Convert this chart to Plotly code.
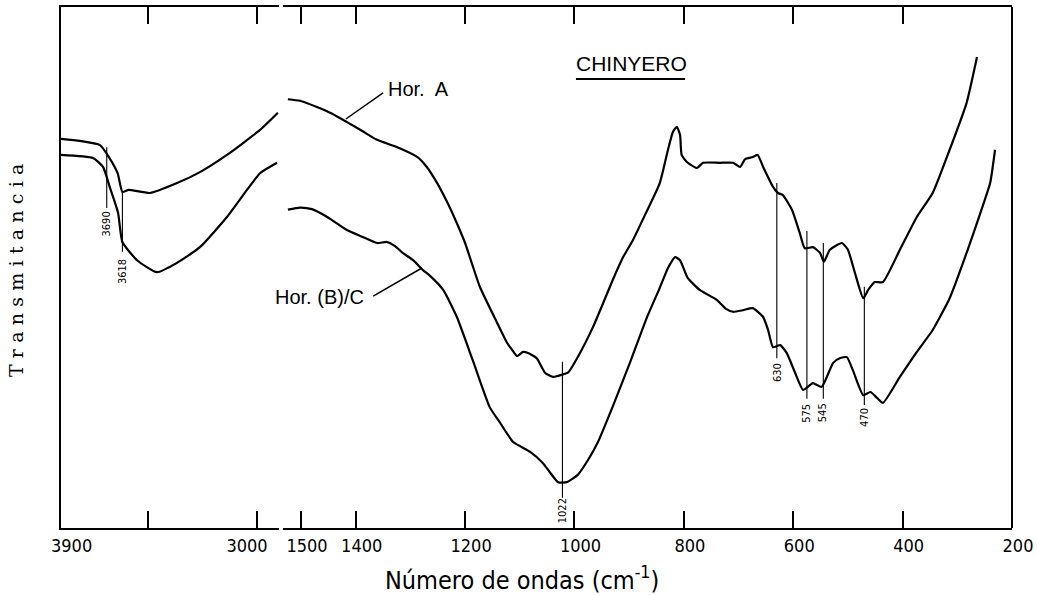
import plotly.graph_objects as go

# ---------------- data ----------------
# Left panel: 3900 - 2900 cm-1
wn_left_A = [3900, 3813, 3721, 3680, 3640, 3618, 3590, 3491, 3367, 3262, 3138, 2986, 2904]
T_left_A = [74.7, 74.3, 73.5, 71.2, 68.1, 64.5, 64.9, 64.3, 66.2, 68.3, 71.6, 76.4, 79.7]

wn_left_BC = [3900, 3753, 3707, 3675, 3638, 3618, 3551, 3459, 3367, 3262, 3138, 3046, 2986, 2908]
T_left_BC = [71.6, 71.0, 69.3, 65.3, 60.5, 54.9, 51.4, 49.1, 50.9, 53.9, 59.7, 64.9, 68.1, 70.1]

# Right panel: 1530 - 200 cm-1
wn_right_A = [1524, 1502, 1471, 1443, 1416, 1388, 1361, 1324, 1287, 1270, 1251, 1233, 1215,
              1200, 1173, 1142, 1123, 1114, 1105, 1094, 1085, 1069, 1054, 1039, 1030, 1012,
              994, 966, 953, 930, 911, 893, 871, 844, 829, 820, 813, 807, 804, 794, 776, 765,
              734, 710, 697, 688, 674, 665, 655, 637, 628, 619, 602, 588, 579, 564, 551, 544,
              533, 511, 500, 487, 472, 463, 451, 436, 405, 374, 345, 314, 283, 264]
T_right_A = [82.3, 82.0, 80.8, 79.5, 77.9, 76.2, 74.5, 73.1, 71.2, 69.3, 66.2, 62.6, 58.5,
             54.7, 46.3, 39.5, 35.5, 34.2, 33.0, 33.8, 33.6, 32.6, 29.8, 29.0, 29.2, 29.8,
             32.8, 38.6, 41.8, 47.6, 52.0, 55.3, 60.1, 66.2, 72.6, 76.0, 77.0, 75.5, 71.6,
             70.2, 69.1, 70.1, 70.1, 70.1, 69.3, 70.8, 71.2, 71.6, 69.3, 65.5, 64.3, 63.9,
             61.0, 56.6, 53.7, 53.9, 52.8, 51.1, 53.4, 54.7, 53.4, 48.9, 44.1, 45.7, 47.2,
             47.2, 53.4, 59.7, 64.3, 72.6, 81.6, 90.4]

wn_right_BC = [1524, 1502, 1480, 1452, 1416, 1388, 1361, 1343, 1328, 1314, 1295, 1277, 1264,
               1240, 1215, 1186, 1155, 1136, 1112, 1081, 1058, 1045, 1030, 1014, 994, 975,
               958, 929, 898, 868, 844, 829, 816, 807, 793, 771, 740, 722, 710, 692, 674,
               655, 646, 637, 624, 612, 597, 582, 564, 548, 527, 515, 502, 491, 472, 459,
               447, 436, 405, 374, 345, 314, 283, 259, 240, 231]
T_right_BC = [61.1, 61.5, 61.2, 59.7, 57.2, 55.9, 54.7, 54.9, 54.1, 52.8, 51.4, 49.5, 48.4,
              45.7, 40.5, 32.2, 23.2, 20.2, 16.5, 14.6, 12.5, 10.7, 8.8, 8.8, 10.2, 13.1,
              16.3, 23.6, 31.9, 40.3, 46.1, 49.9, 52.0, 51.4, 48.0, 45.7, 43.8, 42.0, 41.5,
              41.8, 42.2, 40.5, 38.0, 34.7, 35.1, 33.6, 29.9, 26.5, 27.8, 27.1, 31.7, 32.6,
              32.8, 30.3, 25.5, 26.1, 25.0, 24.0, 29.0, 33.8, 38.0, 44.1, 52.8, 60.1, 66.2,
              72.6]

# Band markers: (label, wavenumber, axis, line top T, line bottom T, label centre T)
band_labels = ["3690", "3618", "1022", "630", "575", "545", "470"]
band_wn = [3690, 3618, 1022, 630, 575, 545, 470]
band_axis = ["x", "x", "x2", "x2", "x2", "x2", "x2"]
band_top = [73.1, 64.7, 31.9, 66.2, 57.0, 54.7, 46.3]
band_bottom = [61.4, 53.0, 5.8, 32.6, 24.8, 24.8, 23.6]
band_text_T = [58.4, 49.2, 3.3, 29.9, 22.1, 22.1, 21.2]

left_ticks = [3900, 3500, 3000]
left_ticktext = ["\u2007\u2007\u2007\u20073900", "", "3000"]
right_ticks = [1500, 1400, 1200, 1000, 800, 600, 400, 200]
right_ticktext = ["1500", "1400", "1200", "1000", "800", "600", "400", "200"]

# ---------------- figure ----------------
TICKFONT = dict(family="DejaVu Sans Condensed, Liberation Sans Narrow, DejaVu Sans", size=18, color="black")
LABFONT = dict(family="Liberation Sans, Arial, sans-serif", size=20, color="black")
SMALLFONT = dict(family="DejaVu Sans Condensed, Liberation Sans Narrow, DejaVu Sans", size=11, color="black")

fig = go.Figure()
line_style = dict(color="black", width=2.2, shape="spline", smoothing=0.5)
fig.add_trace(go.Scatter(x=wn_left_A, y=T_left_A, mode="lines", line=line_style,
                         xaxis="x", yaxis="y", name="Hor. A", showlegend=False))
fig.add_trace(go.Scatter(x=wn_left_BC, y=T_left_BC, mode="lines", line=line_style,
                         xaxis="x", yaxis="y", name="Hor. (B)/C", showlegend=False))
fig.add_trace(go.Scatter(x=wn_right_A, y=T_right_A, mode="lines", line=line_style,
                         xaxis="x2", yaxis="y", name="Hor. A", showlegend=False))
fig.add_trace(go.Scatter(x=wn_right_BC, y=T_right_BC, mode="lines", line=line_style,
                         xaxis="x2", yaxis="y", name="Hor. (B)/C", showlegend=False))

shapes = []
annotations = []
for lab, wn, ax, t0, t1, tt in zip(band_labels, band_wn, band_axis, band_top, band_bottom, band_text_T):
    shapes.append(dict(type="line", xref=ax, yref="y", x0=wn, x1=wn, y0=t0, y1=t1,
                       line=dict(color="black", width=1.1)))
    annotations.append(dict(text=lab, xref=ax, yref="y", x=wn, y=tt, showarrow=False,
                            textangle=-90, font=SMALLFONT, xanchor="center", yanchor="middle"))

# right frame line
shapes.append(dict(type="line", xref="paper", yref="paper", x0=1, x1=1, y0=0, y1=1,
                   line=dict(color="black", width=2)))
# CHINYERO underline
shapes.append(dict(type="line", xref="paper", yref="paper", x0=0.5415, x1=0.6562, y0=0.8618, y1=0.8618,
                   line=dict(color="black", width=2)))
# leader lines
shapes.append(dict(type="line", xref="x2", yref="y", x0=1350, y0=83.5, x1=1418, y1=78.5,
                   line=dict(color="black", width=1.5)))
shapes.append(dict(type="line", xref="x2", yref="y", x0=1368, y0=44.5, x1=1279, y1=49.9,
                   line=dict(color="black", width=1.5)))

annotations += [
    dict(text="CHINYERO", xref="paper", yref="paper", x=0.5994, y=0.8906, showarrow=False,
         xanchor="center", yanchor="middle",
         font=dict(family="Liberation Sans, Arial, sans-serif", size=21, color="black")),
    dict(text="Hor.\u00a0 A", xref="paper", yref="paper", x=0.3754, y=0.8426, showarrow=False,
         xanchor="center", yanchor="middle", font=LABFONT),
    dict(text="Hor. (B)/C", xref="paper", yref="paper", x=0.2723, y=0.4434, showarrow=False,
         xanchor="center", yanchor="middle", font=LABFONT),
    dict(text="\u2004".join("Transmitancia"), xref="paper", yref="paper", x=-0.0473, y=0.495,
         showarrow=False, textangle=-90, xanchor="center", yanchor="middle",
         font=dict(family="DejaVu Serif, Liberation Serif, serif", size=19, color="black")),
    dict(text="Número de ondas (cm<sup>-1</sup>)", xref="paper", yref="paper", x=0.4848, y=-0.096,
         showarrow=False, xanchor="center", yanchor="middle",
         font=dict(family="DejaVu Sans Condensed, Liberation Sans Narrow, DejaVu Sans", size=25, color="black")),
]

axis_common = dict(showgrid=False, zeroline=False, showline=True, linecolor="black", linewidth=2,
                   ticks="inside", ticklen=17, tickwidth=2, tickcolor="black", mirror="ticks",
                   tickfont=TICKFONT, fixedrange=True, automargin=False)

fig.update_layout(
    width=1037, height=595,
    margin=dict(l=61, r=25, t=7, b=67, autoexpand=False),
    paper_bgcolor="white", plot_bgcolor="white",
    showlegend=False,
    xaxis=dict(domain=[0, 0.2292], range=[3900, 2899], tickvals=left_ticks, ticktext=left_ticktext,
               anchor="y", ticklabelshift=10, **axis_common),
    xaxis2=dict(domain=[0.2334, 1], range=[1533, 200], tickvals=right_ticks, ticktext=right_ticktext,
                anchor="y", ticklabelshift=-6, **axis_common),
    yaxis=dict(domain=[0, 1], range=[0, 100], showgrid=False, zeroline=False, showline=True,
               linecolor="black", linewidth=2, ticks="", showticklabels=False, anchor="x",
               fixedrange=True, automargin=False),
    shapes=shapes,
    annotations=annotations,
)

fig.write_html("out.html", config={"displayModeBar": False},
               post_script="document.body.style.margin='0px';document.body.style.overflow='hidden';")
